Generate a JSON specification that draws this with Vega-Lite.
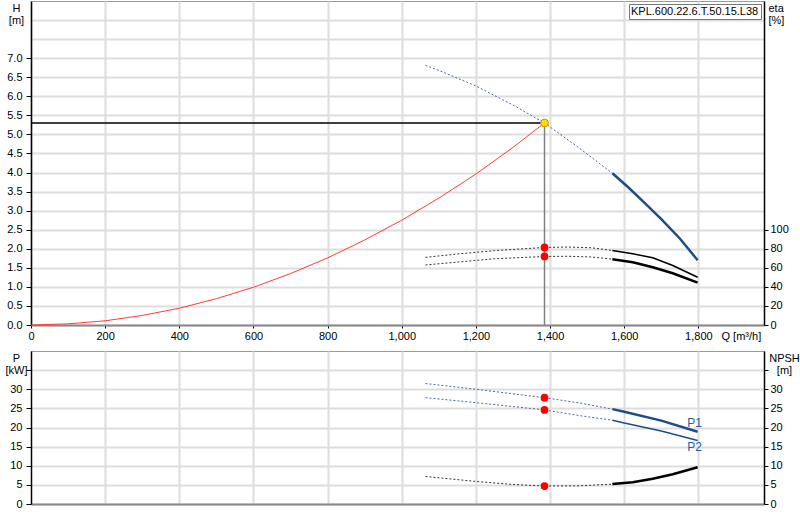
{
  "$schema": "https://vega.github.io/schema/vega-lite/v6.json",
  "padding": 0,
  "autosize": {"type": "pad"},
  "background": "#ffffff",
  "spacing": 6,
  "datasets": {
    "curves": [
      {"s": "system", "p": "line", "q": 0, "v": 0},
      {"s": "system", "p": "line", "q": 100, "v": 0.03},
      {"s": "system", "p": "line", "q": 200, "v": 0.11},
      {"s": "system", "p": "line", "q": 300, "v": 0.25},
      {"s": "system", "p": "line", "q": 400, "v": 0.44},
      {"s": "system", "p": "line", "q": 500, "v": 0.69},
      {"s": "system", "p": "line", "q": 600, "v": 0.99},
      {"s": "system", "p": "line", "q": 700, "v": 1.35},
      {"s": "system", "p": "line", "q": 800, "v": 1.76},
      {"s": "system", "p": "line", "q": 900, "v": 2.23},
      {"s": "system", "p": "line", "q": 1000, "v": 2.75},
      {"s": "system", "p": "line", "q": 1100, "v": 3.33},
      {"s": "system", "p": "line", "q": 1200, "v": 3.96},
      {"s": "system", "p": "line", "q": 1300, "v": 4.66},
      {"s": "system", "p": "line", "q": 1385, "v": 5.3},
      {"s": "H", "p": "dot", "q": 1064, "v": 6.81},
      {"s": "H", "p": "dot", "q": 1100, "v": 6.68},
      {"s": "H", "p": "dot", "q": 1200, "v": 6.27},
      {"s": "H", "p": "dot", "q": 1300, "v": 5.77},
      {"s": "H", "p": "dot", "q": 1385, "v": 5.3},
      {"s": "H", "p": "dot", "q": 1475, "v": 4.67},
      {"s": "H", "p": "dot", "q": 1568, "v": 3.98},
      {"s": "H", "p": "solid", "q": 1568, "v": 3.98},
      {"s": "H", "p": "solid", "q": 1610, "v": 3.62},
      {"s": "H", "p": "solid", "q": 1650, "v": 3.25},
      {"s": "H", "p": "solid", "q": 1700, "v": 2.78},
      {"s": "H", "p": "solid", "q": 1750, "v": 2.27},
      {"s": "H", "p": "solid", "q": 1798, "v": 1.7},
      {"s": "eta1", "p": "dot", "q": 1064, "v": 71},
      {"s": "eta1", "p": "dot", "q": 1150, "v": 74.5},
      {"s": "eta1", "p": "dot", "q": 1250, "v": 78},
      {"s": "eta1", "p": "dot", "q": 1385, "v": 81.4},
      {"s": "eta1", "p": "dot", "q": 1450, "v": 81.8},
      {"s": "eta1", "p": "dot", "q": 1510, "v": 81.1},
      {"s": "eta1", "p": "dot", "q": 1568, "v": 78.2},
      {"s": "eta1", "p": "solid", "q": 1568, "v": 78.2},
      {"s": "eta1", "p": "solid", "q": 1623, "v": 74.7},
      {"s": "eta1", "p": "solid", "q": 1677, "v": 70.5},
      {"s": "eta1", "p": "solid", "q": 1731, "v": 62.4},
      {"s": "eta1", "p": "solid", "q": 1798, "v": 50.1},
      {"s": "eta2", "p": "dot", "q": 1064, "v": 63},
      {"s": "eta2", "p": "dot", "q": 1150, "v": 66},
      {"s": "eta2", "p": "dot", "q": 1250, "v": 69.5},
      {"s": "eta2", "p": "dot", "q": 1385, "v": 71.9},
      {"s": "eta2", "p": "dot", "q": 1450, "v": 72.1},
      {"s": "eta2", "p": "dot", "q": 1510, "v": 71.4},
      {"s": "eta2", "p": "dot", "q": 1568, "v": 69.1},
      {"s": "eta2", "p": "solid", "q": 1568, "v": 69.1},
      {"s": "eta2", "p": "solid", "q": 1623, "v": 65.9},
      {"s": "eta2", "p": "solid", "q": 1677, "v": 60.6},
      {"s": "eta2", "p": "solid", "q": 1731, "v": 54.3},
      {"s": "eta2", "p": "solid", "q": 1798, "v": 44.5},
      {"s": "P1", "p": "dot", "q": 1064, "v": 31.5},
      {"s": "P1", "p": "dot", "q": 1200, "v": 30.0},
      {"s": "P1", "p": "dot", "q": 1385, "v": 27.8},
      {"s": "P1", "p": "dot", "q": 1480, "v": 26.4},
      {"s": "P1", "p": "dot", "q": 1568, "v": 24.8},
      {"s": "P1", "p": "solid", "q": 1568, "v": 24.8},
      {"s": "P1", "p": "solid", "q": 1600, "v": 24.1},
      {"s": "P1", "p": "solid", "q": 1700, "v": 21.8},
      {"s": "P1", "p": "solid", "q": 1798, "v": 18.9},
      {"s": "P2", "p": "dot", "q": 1064, "v": 27.8},
      {"s": "P2", "p": "dot", "q": 1200, "v": 26.5},
      {"s": "P2", "p": "dot", "q": 1385, "v": 24.6},
      {"s": "P2", "p": "dot", "q": 1480, "v": 23.1},
      {"s": "P2", "p": "dot", "q": 1568, "v": 21.9},
      {"s": "P2", "p": "solid", "q": 1568, "v": 21.9},
      {"s": "P2", "p": "solid", "q": 1600, "v": 21.2},
      {"s": "P2", "p": "solid", "q": 1700, "v": 19.1},
      {"s": "P2", "p": "solid", "q": 1798, "v": 16.6},
      {"s": "NPSH", "p": "dot", "q": 1064, "v": 7.2},
      {"s": "NPSH", "p": "dot", "q": 1200, "v": 5.9},
      {"s": "NPSH", "p": "dot", "q": 1300, "v": 5.1},
      {"s": "NPSH", "p": "dot", "q": 1385, "v": 4.7},
      {"s": "NPSH", "p": "dot", "q": 1480, "v": 4.75},
      {"s": "NPSH", "p": "dot", "q": 1568, "v": 5.2},
      {"s": "NPSH", "p": "solid", "q": 1568, "v": 5.2},
      {"s": "NPSH", "p": "solid", "q": 1623, "v": 5.7},
      {"s": "NPSH", "p": "solid", "q": 1677, "v": 6.6},
      {"s": "NPSH", "p": "solid", "q": 1731, "v": 7.8},
      {"s": "NPSH", "p": "solid", "q": 1798, "v": 9.6}
    ],
    "points": [
      {"s": "op", "q": 1385, "v": 5.3},
      {"s": "eta", "q": 1385, "v": 81.4},
      {"s": "eta", "q": 1385, "v": 71.9},
      {"s": "P", "q": 1385, "v": 27.8},
      {"s": "P", "q": 1385, "v": 24.6},
      {"s": "NPSH", "q": 1385, "v": 4.7}
    ],
    "labels": [
      {"t": "P1", "q": 1790, "v": 21.2},
      {"t": "P2", "q": 1790, "v": 14.9}
    ],
    "model": [
      {"m": "KPL.600.22.6.T.50.15.L38", "q": 0, "v": 0}
    ]
  },
  "vconcat": [
    {
      "width": 733,
      "height": 324,
      "encoding": {
        "x": {
          "field": "q", "type": "quantitative",
          "scale": {"domain": [0, 1977], "nice": false, "zero": false},
          "axis": {
            "values": [0, 200, 400, 600, 800, 1000, 1200, 1400, 1600, 1800],
            "format": ",d", "labelFlush": false, "tickSize": 3, "labelPadding": 2,
            "domainColor": "#888888", "domainWidth": 2, "tickColor": "#000000",
            "grid": true, "title": "Q [m³/h]", "titleX": 690, "titleY": 5,
            "titleAlign": "left", "titleBaseline": "top", "titleFontWeight": "normal",
            "minExtent": 18, "maxExtent": 18
          }
        }
      },
      "layer": [
        {
          "encoding": {
            "y": {
              "field": "v", "type": "quantitative",
              "scale": {"domain": [0, 8.5], "nice": false, "zero": false},
              "axis": {
                "orient": "left",
                "values": [0, 0.5, 1, 1.5, 2, 2.5, 3, 3.5, 4, 4.5, 5, 5.5, 6, 6.5, 7, 7.5, 8],
                "labelExpr": "datum.value > 7 ? '' : format(datum.value, '.1f')",
                "tickOpacity": {"condition": {"test": "datum.value > 7", "value": 0}, "value": 1},
                "tickSize": 5, "labelPadding": 4, "grid": true,
                "title": ["H", "[m]"], "titleAngle": 0, "titleAlign": "center",
                "titleBaseline": "top", "titleX": -15, "titleY": 1, "titleLineHeight": 12,
                "titleFontWeight": "normal",
                "minExtent": 30, "maxExtent": 30
              }
            }
          },
          "layer": [
            {
              "data": {"name": "curves"},
              "transform": [{"filter": "datum.s == 'system'"}],
              "mark": {"type": "line", "color": "#ff3b3b", "strokeWidth": 1}
            },
            {
              "data": {"name": "points"},
              "transform": [{"filter": "datum.s == 'op'"}],
              "mark": {"type": "rule", "color": "#000000", "strokeWidth": 1.3},
              "encoding": {"x": {"datum": 0}, "x2": {"field": "q"}}
            },
            {
              "data": {"name": "points"},
              "transform": [{"filter": "datum.s == 'op'"}],
              "mark": {"type": "rule", "color": "#808080", "strokeWidth": 1.5},
              "encoding": {"y": {"datum": 0}, "y2": {"field": "v"}}
            },
            {
              "data": {"name": "curves"},
              "transform": [{"filter": "datum.s == 'H' && datum.p == 'dot'"}],
              "mark": {"type": "line", "color": "#4a6b93", "strokeWidth": 1, "strokeDash": [2, 2]}
            },
            {
              "data": {"name": "curves"},
              "transform": [{"filter": "datum.s == 'H' && datum.p == 'solid'"}],
              "mark": {"type": "line", "color": "#1b4e89", "strokeWidth": 2.5}
            },
            {
              "data": {"name": "points"},
              "transform": [{"filter": "datum.s == 'op'"}],
              "mark": {"type": "point", "filled": true, "fill": "#ffdd00", "stroke": "#c89000", "strokeWidth": 1, "size": 60, "opacity": 1}
            },
            {
              "data": {"name": "model"},
              "mark": {"type": "point", "opacity": 0, "size": 0.01},
              "encoding": {
                "color": {
                  "field": "m", "type": "nominal",
                  "scale": {"range": ["#ffffff"]},
                  "legend": {
                    "title": null, "orient": "top-right", "offset": 3, "padding": 2,
                    "strokeColor": "#777777", "fillColor": "#ffffff",
                    "symbolSize": 0.01, "symbolStrokeWidth": 0, "symbolOpacity": 0, "labelOffset": -11,
                    "labelFontSize": 11, "labelFont": "Liberation Sans", "labelColor": "#000000"
                  }
                }
              }
            }
          ]
        },
        {
          "encoding": {
            "y": {
              "field": "v", "type": "quantitative",
              "scale": {"domain": [0, 340], "nice": false, "zero": false},
              "axis": {
                "orient": "right",
                "values": [0, 20, 40, 60, 80, 100],
                "tickSize": 4, "labelPadding": 2, "grid": false,
                "title": ["eta", "[%]"], "titleAngle": 0, "titleAlign": "left",
                "titleBaseline": "top", "titleX": 4, "titleY": 1, "titleLineHeight": 12,
                "titleFontWeight": "normal"
              }
            }
          },
          "layer": [
            {
              "data": {"name": "curves"},
              "transform": [{"filter": "(datum.s == 'eta1' || datum.s == 'eta2') && datum.p == 'dot'"}],
              "mark": {"type": "line", "color": "#333333", "strokeWidth": 1, "strokeDash": [2, 2]},
              "encoding": {"detail": {"field": "s"}}
            },
            {
              "data": {"name": "curves"},
              "transform": [{"filter": "datum.s == 'eta1' && datum.p == 'solid'"}],
              "mark": {"type": "line", "color": "#000000", "strokeWidth": 1.5}
            },
            {
              "data": {"name": "curves"},
              "transform": [{"filter": "datum.s == 'eta2' && datum.p == 'solid'"}],
              "mark": {"type": "line", "color": "#000000", "strokeWidth": 2.5}
            },
            {
              "data": {"name": "points"},
              "transform": [{"filter": "datum.s == 'eta'"}],
              "mark": {"type": "point", "filled": true, "color": "#ff0000", "size": 60, "opacity": 1}
            }
          ]
        }
      ],
      "resolve": {"scale": {"y": "independent"}}
    },
    {
      "width": 733,
      "height": 153,
      "encoding": {
        "x": {
          "field": "q", "type": "quantitative",
          "scale": {"domain": [0, 1977], "nice": false, "zero": false},
          "axis": {
            "values": [200, 400, 600, 800, 1000, 1200, 1400, 1600, 1800],
            "labels": false, "ticks": false, "title": null,
            "domainColor": "#888888", "domainWidth": 2, "grid": true
          }
        }
      },
      "layer": [
        {
          "encoding": {
            "y": {
              "field": "v", "type": "quantitative",
              "scale": {"domain": [0, 40], "nice": false, "zero": false},
              "axis": {
                "orient": "left",
                "values": [0, 5, 10, 15, 20, 25, 30, 35],
                "labelExpr": "datum.value > 30 ? '' : format(datum.value, 'd')",
                "tickSize": 5, "labelPadding": 4, "grid": true,
                "title": ["P", "[kW]"], "titleAngle": 0, "titleAlign": "center",
                "titleBaseline": "top", "titleX": -15, "titleY": 1, "titleLineHeight": 12,
                "titleFontWeight": "normal",
                "minExtent": 30, "maxExtent": 30
              }
            }
          },
          "layer": [
            {
              "data": {"name": "curves"},
              "transform": [{"filter": "(datum.s == 'P1' || datum.s == 'P2') && datum.p == 'dot'"}],
              "mark": {"type": "line", "color": "#4a6b93", "strokeWidth": 1, "strokeDash": [2, 2]},
              "encoding": {"detail": {"field": "s"}}
            },
            {
              "data": {"name": "curves"},
              "transform": [{"filter": "datum.s == 'P1' && datum.p == 'solid'"}],
              "mark": {"type": "line", "color": "#1b4e89", "strokeWidth": 2.5}
            },
            {
              "data": {"name": "curves"},
              "transform": [{"filter": "datum.s == 'P2' && datum.p == 'solid'"}],
              "mark": {"type": "line", "color": "#1b4e89", "strokeWidth": 1.5}
            },
            {
              "data": {"name": "points"},
              "transform": [{"filter": "datum.s == 'P'"}],
              "mark": {"type": "point", "filled": true, "color": "#ff0000", "size": 60, "opacity": 1}
            },
            {
              "data": {"name": "labels"},
              "mark": {"type": "text", "color": "#1f5fa0", "fontSize": 12, "font": "Liberation Sans", "align": "center", "baseline": "middle"},
              "encoding": {"text": {"field": "t"}}
            }
          ]
        },
        {
          "encoding": {
            "y": {
              "field": "v", "type": "quantitative",
              "scale": {"domain": [0, 40], "nice": false, "zero": false},
              "axis": {
                "orient": "right",
                "values": [0, 5, 10, 15, 20, 25, 30, 35],
                "labelExpr": "datum.value > 30 ? '' : format(datum.value, 'd')",
                "tickSize": 4, "labelPadding": 2, "grid": false,
                "title": ["NPSH", "[m]"], "titleAngle": 0, "titleAlign": "center",
                "titleBaseline": "top", "titleX": 20, "titleY": 1, "titleLineHeight": 12,
                "titleFontWeight": "normal"
              }
            }
          },
          "layer": [
            {
              "data": {"name": "curves"},
              "transform": [{"filter": "datum.s == 'NPSH' && datum.p == 'dot'"}],
              "mark": {"type": "line", "color": "#333333", "strokeWidth": 1, "strokeDash": [2, 2]}
            },
            {
              "data": {"name": "curves"},
              "transform": [{"filter": "datum.s == 'NPSH' && datum.p == 'solid'"}],
              "mark": {"type": "line", "color": "#000000", "strokeWidth": 2.5}
            },
            {
              "data": {"name": "points"},
              "transform": [{"filter": "datum.s == 'NPSH'"}],
              "mark": {"type": "point", "filled": true, "color": "#ff0000", "size": 60, "opacity": 1}
            }
          ]
        }
      ],
      "resolve": {"scale": {"y": "independent"}}
    }
  ],
  "config": {
    "font": "Liberation Sans",
    "view": {"stroke": "#999999", "strokeWidth": 1},
    "axis": {
      "labelFont": "Liberation Sans", "labelFontSize": 11, "labelColor": "#000000",
      "titleFont": "Liberation Sans", "titleFontSize": 11, "titleColor": "#000000",
      "gridColor": "#dddddd", "gridWidth": 2,
      "domainColor": "#000000", "domainWidth": 1.5, "tickColor": "#000000"
    },
    "axisX": {"domainColor": "#888888"}
  }
}
